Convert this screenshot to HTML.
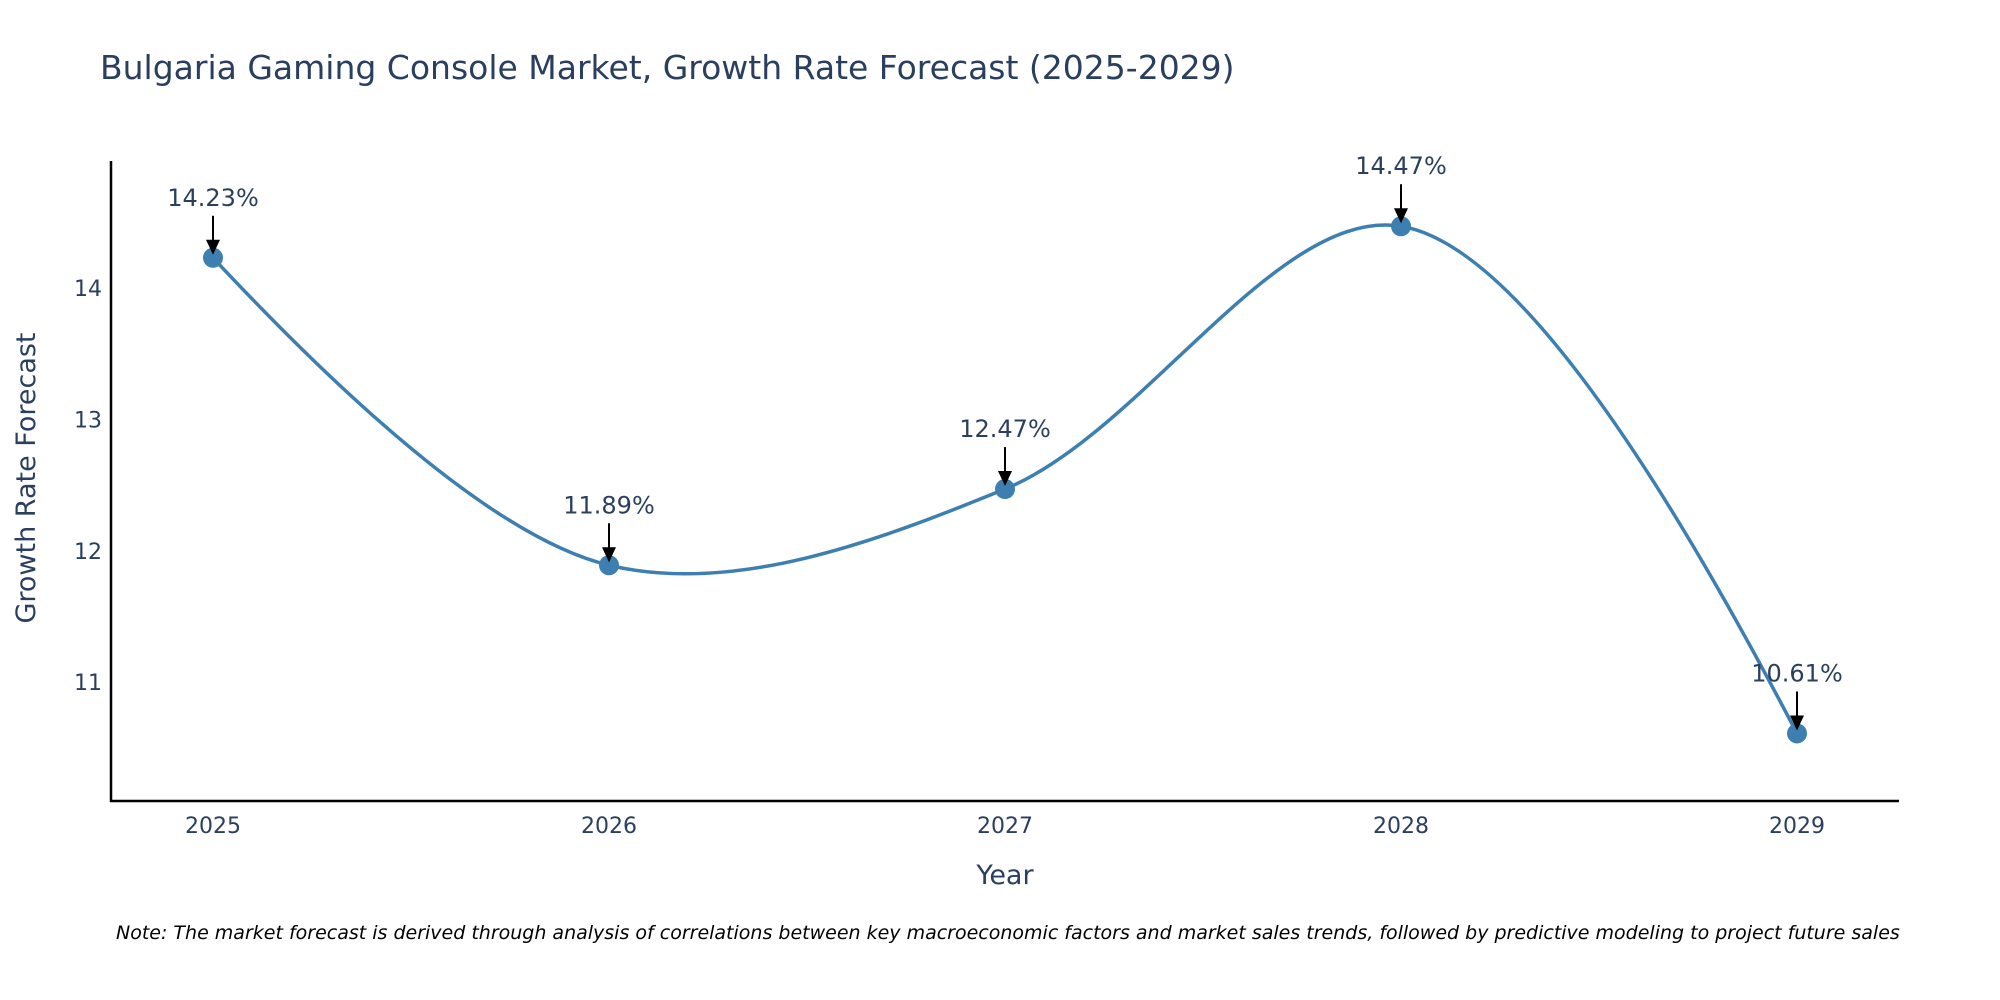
<!DOCTYPE html>
<html><head><meta charset="utf-8"><style>
body{margin:0;background:#fff;}
svg{display:block;font-family:"DejaVu Sans","Liberation Sans",sans-serif;}
</style></head><body>
<svg id="chart" width="2000" height="1000" viewBox="0 0 2000 1000">
<text x="100" y="79" font-size="33" fill="#2a3f5f">Bulgaria Gaming Console Market, Growth Rate Forecast (2025-2029)</text>
<line x1="111" y1="161" x2="111" y2="802" stroke="#000" stroke-width="2.5"/>
<line x1="110" y1="801" x2="1899" y2="801" stroke="#000" stroke-width="2.5"/>
<g id="yticks"></g>
<g id="xticks"></g>
<path id="line" fill="none" stroke="#3d7fb0" stroke-width="3.5"/>
<g id="points"></g>
<g id="annots"></g>
<text x="1005" y="884" font-size="27" fill="#2a3f5f" text-anchor="middle">Year</text>
<text transform="translate(35,478) rotate(-90)" font-size="27" fill="#2a3f5f" text-anchor="middle">Growth Rate Forecast</text>
<text x="116" y="939" font-size="19" font-style="italic" fill="#000">Note: The market forecast is derived through analysis of correlations between key macroeconomic factors and market sales trends, followed by predictive modeling to project future sales</text>
</svg>
<script>
const years = ["2025","2026","2027","2028","2029"];
const values = [14.23, 11.89, 12.47, 14.47, 10.61];
const yTickValues = [11, 12, 13, 14];
const NS = "http://www.w3.org/2000/svg";
function xPos(i){ return 213 + i * (1797 - 213) / (years.length - 1); }
function yPos(v){ return 288 + (14 - v) * 131.4; }
function mk(tag, attrs, parent){ const e = document.createElementNS(NS, tag); for (const k in attrs) e.setAttribute(k, attrs[k]); parent.appendChild(e); return e; }
const yt = document.getElementById('yticks');
yTickValues.forEach(v => {
  const t = mk('text', {x: 102, y: yPos(v) + 8, 'font-size': 22, fill: '#2a3f5f', 'text-anchor': 'end'}, yt);
  
  
  t.textContent = v;
});
const xt = document.getElementById('xticks');
years.forEach((y, i) => {
  const t = mk('text', {x: xPos(i), y: 833, 'font-size': 22, fill: '#2a3f5f', 'text-anchor': 'middle'}, xt);
  
  
  t.textContent = y;
});
const pts = values.map((v, i) => [xPos(i), yPos(v)]);
// plotly-style spline tangents (smoothing 1)
const s = 1;
const tang = [];
for (let i = 1; i < pts.length - 1; i++) {
  const p0 = pts[i-1], p1 = pts[i], p2 = pts[i+1];
  const a = [p1[0]-p0[0], p1[1]-p0[1]], b = [p2[0]-p1[0], p2[1]-p1[1]];
  const d1 = Math.pow(a[0]*a[0]+a[1]*a[1], 0.25), d2 = Math.pow(b[0]*b[0]+b[1]*b[1], 0.25);
  const T = [d2*d2*a[0] + d1*d1*b[0], d2*d2*a[1] + d1*d1*b[1]];
  const den1 = 3*d2*(d1+d2), den2 = 3*d1*(d1+d2);
  tang.push([[p1[0]-T[0]*s/den1, p1[1]-T[1]*s/den1], [p1[0]+T[0]*s/den2, p1[1]+T[1]*s/den2]]);
}
let d = `M${pts[0][0]},${pts[0][1]} Q${tang[0][0][0]},${tang[0][0][1]} ${pts[1][0]},${pts[1][1]}`;
for (let i = 1; i < pts.length - 2; i++) {
  d += ` C${tang[i-1][1][0]},${tang[i-1][1][1]} ${tang[i][0][0]},${tang[i][0][1]} ${pts[i+1][0]},${pts[i+1][1]}`;
}
const lt = tang[tang.length-1][1], lp = pts[pts.length-1];
d += ` Q${lt[0]},${lt[1]} ${lp[0]},${lp[1]}`;
document.getElementById('line').setAttribute('d', d);
const pg = document.getElementById('points');
const ag = document.getElementById('annots');
pts.forEach((p, i) => {
  const c = mk('circle', {cx: p[0], cy: p[1], r: 10, fill: '#3d7fb0'}, pg);
  
  
  const l = mk('line', {x1: p[0], y1: p[1] - 42, x2: p[0], y2: p[1] - 14, stroke: '#000', 'stroke-width': 2}, ag);
  
  
  const h = mk('polygon', {points: `${p[0]-7},${p[1]-18} ${p[0]+7},${p[1]-18} ${p[0]},${p[1]-3}`, fill: '#000'}, ag);
  
  
  const t = mk('text', {x: p[0], y: p[1] - 52, 'font-size': 24, fill: '#2a3f5f', 'text-anchor': 'middle'}, ag);
  
  
  t.textContent = values[i].toFixed(2) + '%';
});
</script>
</body></html>
